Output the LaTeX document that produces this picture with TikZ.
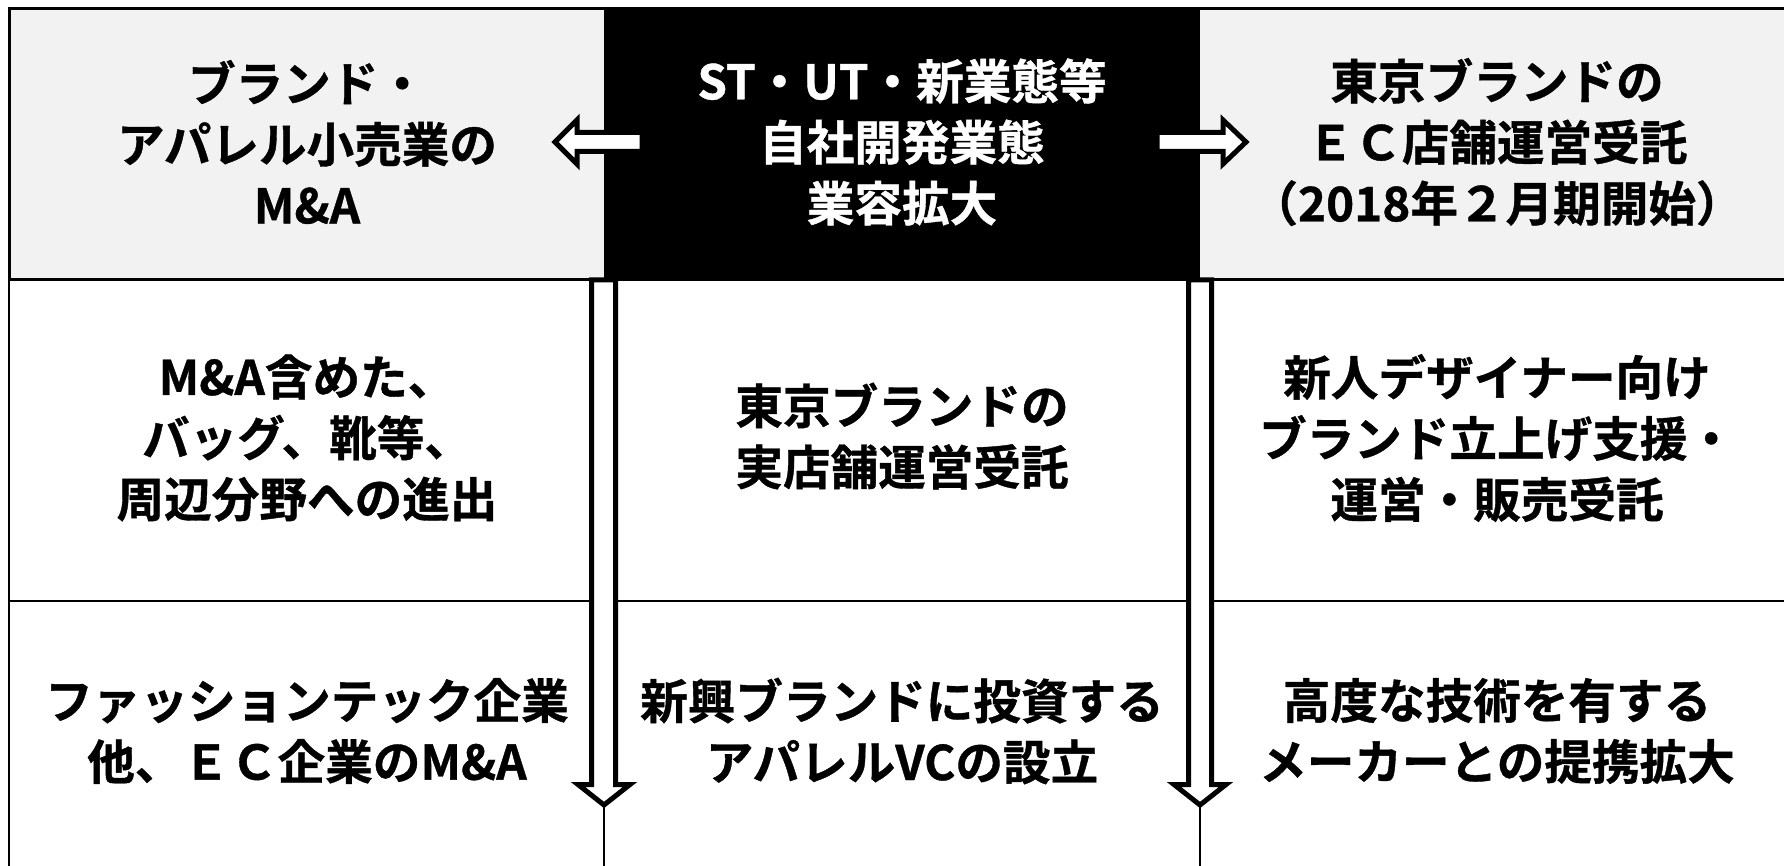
\documentclass[tikz,border=0pt]{standalone}
\usepackage{fontspec}
\newfontfamily\jp{Noto Sans CJK JP Bold}[FakeBold=0.8]
\definecolor{cellgray}{HTML}{F2F2F2}
\begin{document}
\begin{tikzpicture}[x=0.5pt,y=-0.5pt,
  txt/.style={font=\jp\fontsize{23.8}{30.5}\selectfont, align=center, inner sep=0pt, text=black},
  wtxt/.style={txt, text=white},
  thickline/.style={line width=1.5pt},
  thinline/.style={line width=1pt},
  blockarrow/.style={draw=black, fill=white, line width=2.5pt, line join=miter, miter limit=20}]
\useasboundingbox (0,0) rectangle (1784,866);
% top row fills
\fill[cellgray] (9,9) rectangle (604,280);
\fill[black] (604,9) rectangle (1200,280);
\fill[cellgray] (1200,9) rectangle (1784,280);
% top row borders
\draw[thickline] (1784,9) -- (9,9) -- (9,280) -- (1784,280);
% lower grid
\draw[thinline] (9,280) -- (9,866);
\draw[thinline] (9,601) -- (1784,601);
\draw[thinline] (604,280) -- (604,866);
\draw[thinline] (1200,280) -- (1200,866);
% horizontal block arrows
\draw[blockarrow] (642,132.5) -- (577,132.5) -- (577,120) -- (555,142) -- (577,164) -- (577,151.5) -- (642,151.5) -- cycle;
\draw[blockarrow] (1157,132.5) -- (1223,132.5) -- (1223,120) -- (1246,142) -- (1223,164) -- (1223,151.5) -- (1157,151.5) -- cycle;
% vertical block arrows
\draw[blockarrow] (591.5,280) -- (591.5,784.5) -- (578,784.5) -- (604,805) -- (630,784.5) -- (615.5,784.5) -- (615.5,280) -- cycle;
\draw[blockarrow] (1188.5,280) -- (1188.5,784.5) -- (1174,784.5) -- (1200,805) -- (1226,784.5) -- (1211.5,784.5) -- (1211.5,280) -- cycle;
% texts
\node[txt] (tl) at (307,142) {ブランド・\\アパレル小売業の\\M\&A};
\node[wtxt] (tc) at (902,142) {ST・UT・新業態等\\自社開発業態\\業容拡大};
\node[txt] (tr) at (1497,142) {東京ブランドの\\ＥＣ店舗運営受託\\（2018年２月期開始）};
\node[txt] (ml) at (307,438) {M\&A含めた、\\バッグ、靴等、\\周辺分野への進出};
\node[txt] (mc) at (902,436) {東京ブランドの\\実店舗運営受託};
\node[txt] (mr) at (1497,438) {新人デザイナー向け\\ブランド立上げ支援・\\運営・販売受託};
\node[txt] (bl) at (307,731) {ファッションテック企業\\他、ＥＣ企業のM\&A};
\node[txt] (bc) at (902,731) {新興ブランドに投資する\\アパレルVCの設立};
\node[txt] (br) at (1497,731) {高度な技術を有する\\メーカーとの提携拡大};
\end{tikzpicture}
\end{document}
